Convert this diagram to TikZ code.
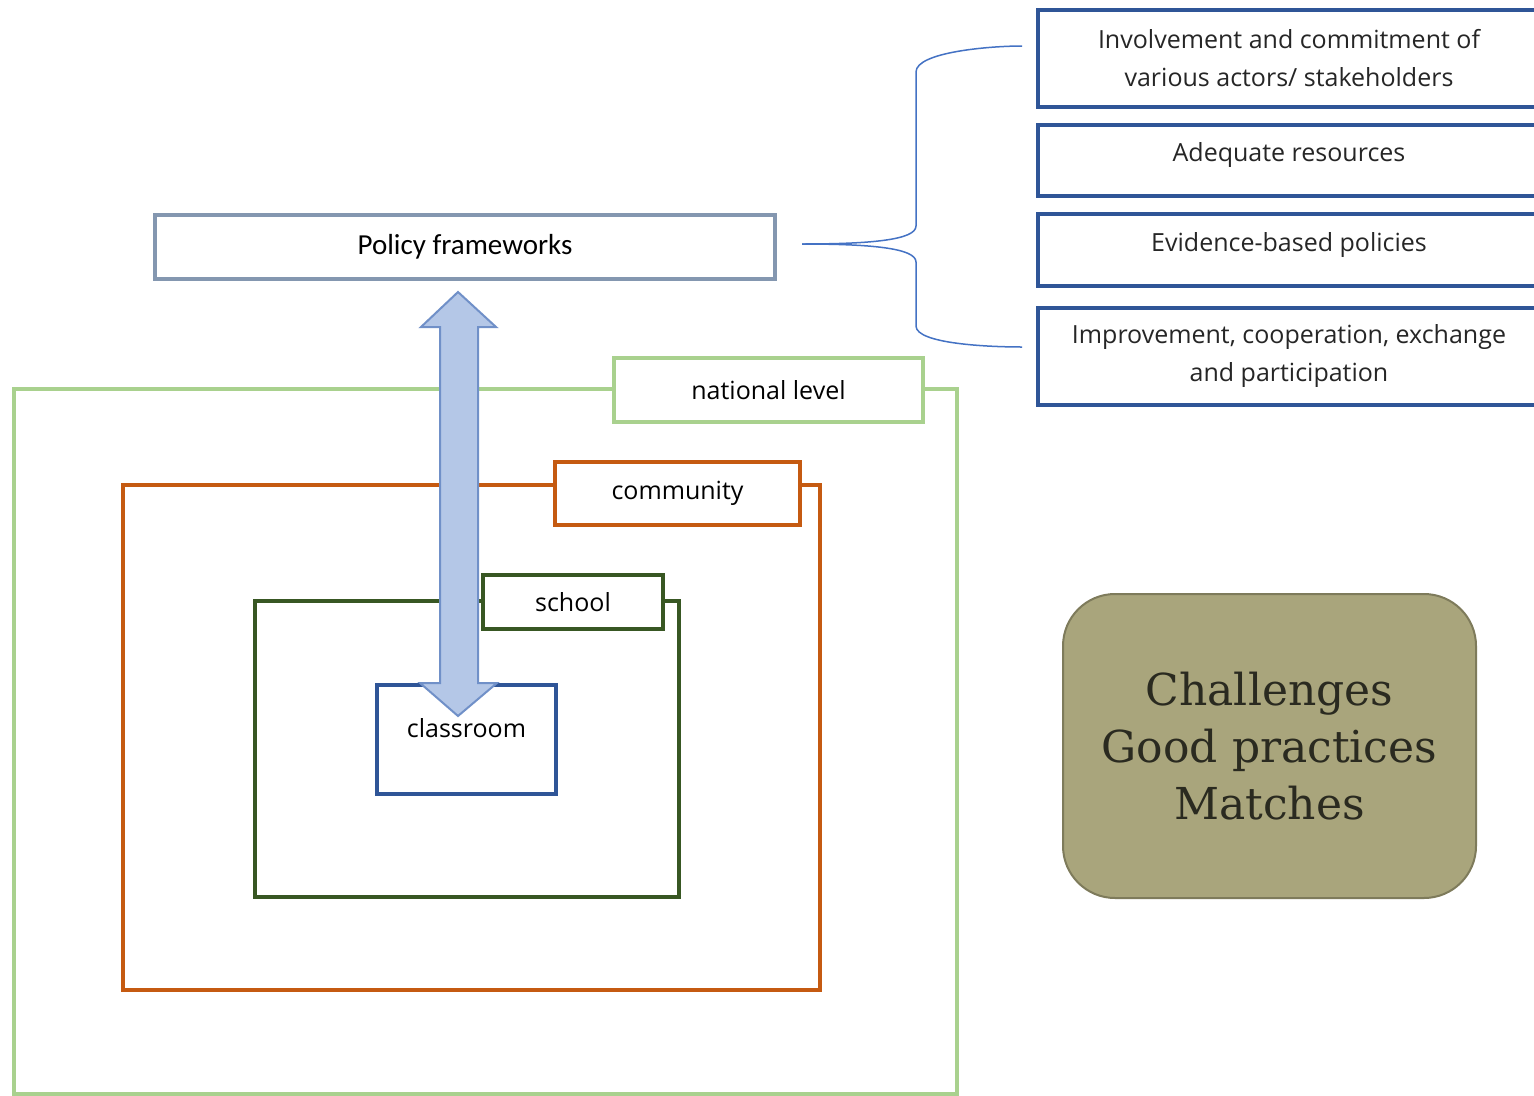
\documentclass[tikz,border=0pt]{standalone}
\usepackage{fontspec}
\setmainfont{Open Sans}
\newfontfamily\calib{Carlito}
\newfontfamily\slab{DejaVu Serif}
\definecolor{polgray}{HTML}{8497B0}
\definecolor{boxblue}{HTML}{2F5597}
\definecolor{natgreen}{HTML}{A9D18E}
\definecolor{commorange}{HTML}{C55A11}
\definecolor{schgreen}{HTML}{385723}
\definecolor{arrfill}{HTML}{B4C7E7}
\definecolor{arrline}{HTML}{7090C8}
\definecolor{bracecol}{HTML}{4472C4}
\definecolor{olive}{HTML}{A9A57C}
\definecolor{oliveline}{HTML}{7E7B5B}
\definecolor{olivetext}{HTML}{2A2A20}
\begin{document}
\begin{tikzpicture}[x=1pt,y=-1pt,
  frame/.style={draw, line width=4pt, inner sep=0pt, outer sep=0pt, anchor=north west},
  tag/.style={draw, fill=white, line width=4pt, inner sep=0pt, outer sep=0pt, anchor=north west, font=\fontsize{25}{30}\selectfont, text=black},
  sidebox/.style={draw=boxblue, line width=3.5pt, inner sep=0pt, outer sep=0pt, anchor=north west, minimum width=502pt, align=center, font=\fontsize{25}{38}\selectfont, text=black!85},
  txt/.style={font=\fontsize{25}{30}\selectfont, text=black}
]
\useasboundingbox (0,0) rectangle (1534,1095);
\fill[white] (0,0) rectangle (1534,1095);

% policy box
\node[frame, draw=polgray, minimum width=620pt, minimum height=64pt, font=\calib\fontsize{29}{34}\selectfont] (pol) at (155,215) {Policy frameworks};

% right boxes
\node[sidebox, minimum height=97pt] (b1) at (1038,10) {Involvement and commitment of\\various actors/ stakeholders};
\node[sidebox, minimum height=71pt, text height=18pt, text depth=16pt] (b2) at (1038,125) {Adequate resources};
\node[sidebox, minimum height=72pt, text height=18pt, text depth=16pt] (b3) at (1038,214) {Evidence-based policies};
\node[sidebox, minimum height=97pt] (b4) at (1038,308) {Improvement, cooperation, exchange\\and participation};

% brace
\coordinate (bt) at (802,244);
\coordinate (btop) at (1022,46);
\coordinate (bbot) at (1022,347);
\draw[bracecol, line width=1.5pt]
  (bt) .. controls (870,244) and (916,240) .. (916,226) -- (916,72)
  .. controls (916,52) and (990,46) .. (btop);
\draw[bracecol, line width=1.5pt]
  (bt) .. controls (870,244) and (916,248) .. (916,262) -- (916,326)
  .. controls (916,344) and (990,347) .. (bbot);

% nested frames
\node[frame, draw=natgreen, minimum width=943pt, minimum height=705pt] (nat) at (14,389) {};
\node[tag, draw=natgreen, minimum width=309pt, minimum height=64pt] (natT) at (614,358) {national level};
\node[frame, draw=commorange, minimum width=697pt, minimum height=505pt] (com) at (123,485) {};
\node[tag, draw=commorange, minimum width=245pt, minimum height=63pt] (comT) at (555,462) {community};
\node[frame, draw=schgreen, minimum width=424pt, minimum height=296pt] (sch) at (255,601) {};
\node[tag, draw=schgreen, minimum width=180pt, minimum height=54pt] (schT) at (483,575) {school};
\node[frame, draw=boxblue, minimum width=179pt, minimum height=109pt] (cls) at (377,685) {};
\node[txt] (clsT) at (cls.north) [yshift=-43pt] {classroom};

% double arrow
\filldraw[fill=arrfill, draw=arrline, line width=2pt, line join=miter]
  (458,292) -- (496,327) -- (478,327) -- (478,683) -- (497,683) -- (458,716)
  -- (420,683) -- (440,683) -- (440,327) -- (421,327) -- cycle;

% challenges box
\node[draw=oliveline, fill=olive, line width=2pt, rounded corners=52pt, anchor=north west, outer sep=0pt,
  minimum width=413pt, minimum height=304pt, inner sep=0pt, align=center, text=olivetext,
  font=\slab\fontsize{44}{57}\selectfont] (chal) at (1063,594) {Challenges\\Good practices\\Matches};
\end{tikzpicture}
\end{document}
